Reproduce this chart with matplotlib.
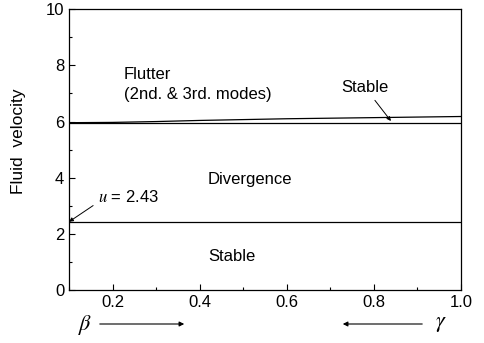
import matplotlib
matplotlib.use('Agg')
import matplotlib.pyplot as plt
from matplotlib.patches import FancyArrowPatch
from matplotlib.ticker import MultipleLocator

plt.rcParams['font.family'] = ['Liberation Sans', 'DejaVu Sans']
plt.rcParams['font.size'] = 12
plt.rcParams['mathtext.fontset'] = 'stix'

# boundaries
x_div = [0.1, 1.0]
u_div = [2.43, 2.43]
x_flut = [0.1, 1.0]
u_flut = [5.96, 5.96]
x_flut2 = [0.1, 0.2, 0.3, 0.4, 0.5, 0.6, 0.7, 0.8, 0.9, 1.0]
u_flut2 = [5.96, 5.97, 6.0, 6.04, 6.07, 6.10, 6.12, 6.14, 6.16, 6.18]
xticks = [0.2, 0.4, 0.6, 0.8, 1.0]
xtick_labels = ['0.2', '0.4', '0.6', '0.8', '1.0']

fig = plt.figure(figsize=(4.84, 3.43), dpi=100)
ax = fig.add_axes([0.1426, 0.1545, 0.81, 0.8185])

ax.plot(x_div, u_div, color='black', lw=0.9)
ax.plot(x_flut, u_flut, color='black', lw=0.9)
ax.plot(x_flut2, u_flut2, color='black', lw=0.9)

ax.set_xlim(0.1, 1.0)
ax.set_ylim(0, 10)
ax.set_xticks(xticks)
ax.set_xticklabels(xtick_labels)
ax.xaxis.set_minor_locator(MultipleLocator(0.1))
ax.yaxis.set_major_locator(MultipleLocator(2))
ax.yaxis.set_minor_locator(MultipleLocator(1))
ax.tick_params(which='major', direction='in', length=4, width=0.8, labelsize=12)
ax.tick_params(which='minor', direction='in', length=2, width=0.8)
for s in ax.spines.values():
    s.set_linewidth(0.9)

ax.set_ylabel('Fluid  velocity', fontsize=12.5)
ax.yaxis.set_label_coords(-0.11, 0.53)

ax.text(0.226, 7.66, 'Flutter', va='center', ha='left')
ax.text(0.226, 6.95, '(2nd. & 3rd. modes)', va='center', ha='left')
ax.text(0.515, 3.92, 'Divergence', va='center', ha='center')
ax.text(0.473, 1.19, 'Stable', va='center', ha='center')

ax.annotate('Stable', xy=(0.839, 6.02), xytext=(0.78, 7.2),
            ha='center', va='center',
            arrowprops=dict(arrowstyle='-|>', color='black', lw=0.7,
                            mutation_scale=6, shrinkA=2, shrinkB=0))
ax.annotate('$u$ = 2.43', xy=(0.1, 2.43), xytext=(0.167, 3.3),
            ha='left', va='center',
            arrowprops=dict(arrowstyle='-|>', color='black', lw=0.7,
                            mutation_scale=6, shrinkA=2, shrinkB=0,
                            relpos=(0, 0.2)))

fig.text(85, 18, r'$\beta$', transform=None, fontsize=16, ha='center', va='center')
fig.text(441, 19, r'$\gamma$', transform=None, fontsize=16, ha='center', va='center')
fig.patches.append(FancyArrowPatch(
    (97, 19), (187, 19), transform=None, arrowstyle='-|>',
    mutation_scale=7, lw=0.8, color='black'))
fig.patches.append(FancyArrowPatch(
    (425, 19), (340, 19), transform=None, arrowstyle='-|>',
    mutation_scale=7, lw=0.8, color='black'))

fig.savefig('out.png', dpi=100)
